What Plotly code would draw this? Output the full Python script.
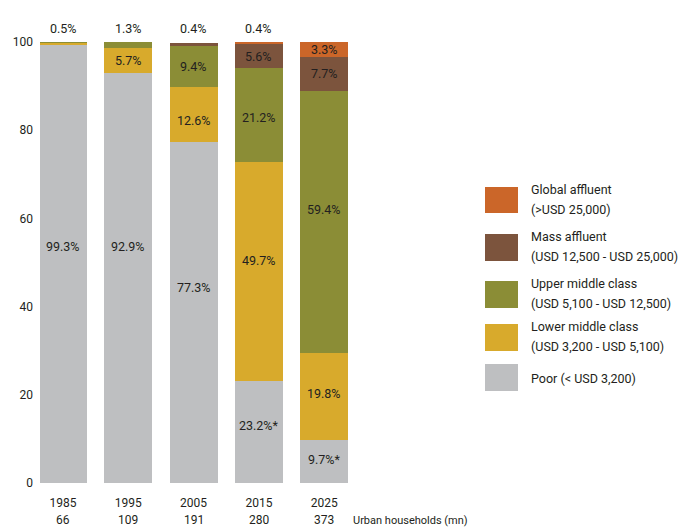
import plotly.graph_objects as go

# Urban household income distribution by year (share of households, %)
years = ["1985", "1995", "2005", "2015", "2025"]
households_mn = ["66", "109", "191", "280", "373"]

poor = [99.3, 92.9, 77.3, 23.2, 9.7]
lower_middle = [0.5, 5.7, 12.6, 49.7, 19.8]
upper_middle = [0.2, 1.3, 9.4, 21.2, 59.4]
mass_affluent = [0.0, 0.0, 0.4, 5.6, 7.7]
global_affluent = [0.0, 0.0, 0.0, 0.4, 3.3]

poor_note = ["", "", "", "*", "*"]

series_names = ["Poor", "Lower middle class", "Upper middle class",
                "Mass affluent", "Global affluent"]
series_ranges = ["(< USD 3,200)", "(USD 3,200 - USD 5,100)",
                 "(USD 5,100 - USD 12,500)", "(USD 12,500 - USD 25,000)",
                 "(>USD 25,000)"]
series_values = [poor, lower_middle, upper_middle, mass_affluent, global_affluent]
series_colors = ["#BEBFC1", "#D8AA2C", "#8B8D36", "#7C543D", "#CB6629"]

# segment whose share is printed above each bar (thin top segments)
top_label_series = [1, 2, 3, 4, None]

# vertical nudges (px) of the in-bar labels, per series and year
label_nudge = [
    [18, 32, 25, 6, 2],
    [0, 0, -6, 11, 3],
    [0, 0, -1, -3, 12],
    [0, 0, 0, -1, 0],
    [0, 0, 0, 0, 0],
]

FONT = "Roboto, Liberation Sans, sans-serif"
INK = "#231F20"

W, H = 694, 528
L, R, T, B = 40, 0, 42, 45
plot_w, plot_h = W - L - R, H - T - B
step = 65.3            # pixels between bar centres
first_centre = 63      # pixel x of first bar centre


def px_x(px):
    return (px - L) / plot_w


def px_y(py):
    return (H - B - py) / plot_h


x_pos = list(range(len(years)))
fig = go.Figure()

for name, vals, color in zip(series_names, series_values, series_colors):
    fig.add_trace(go.Bar(
        x=x_pos, y=vals, name=name,
        marker=dict(color=color, line=dict(width=0)),
        width=48 / step,
        hoverinfo="skip", showlegend=False,
    ))

annotations = []
# in-bar share labels, centred on each segment
base = [0.0] * len(years)
for k, vals in enumerate(series_values):
    for i, v in enumerate(vals):
        if v >= 3:
            note = poor_note[i] if k == 0 else ""
            annotations.append(dict(
                x=i, y=base[i] + v / 2, xref="x", yref="y",
                yshift=label_nudge[k][i],
                text=f"{v:.1f}%{note}", showarrow=False,
                font=dict(family=FONT, size=12.5, color=INK)))
        base[i] += v

# labels above bars for thin top segments
for i, k in enumerate(top_label_series):
    if k is None:
        continue
    annotations.append(dict(
        x=i, y=100, xref="x", yref="y", yanchor="bottom", yshift=4,
        text=f"{series_values[k][i]:.1f}%", showarrow=False,
        font=dict(family=FONT, size=12.5, color=INK)))

# household counts under the year labels
for i, n in enumerate(households_mn):
    annotations.append(dict(
        x=i, y=px_y(520), xref="x", yref="paper", yanchor="middle",
        text=n, showarrow=False, font=dict(family=FONT, size=12, color=INK)))
annotations.append(dict(
    x=px_x(351), y=px_y(520), xref="paper", yref="paper",
    xanchor="left", yanchor="middle", text="Urban households (mn)",
    showarrow=False, font=dict(family=FONT, size=11, color=INK)))

# legend: colour squares with two-line descriptions
legend_boxes = [(364, 391), (324, 351), (281, 308), (234, 261), (187, 213)]
legend_lines = [(378,), (326, 346), (283, 303), (236, 256), (189, 209)]
shapes = []
for k in range(len(series_names)):
    y0, y1 = legend_boxes[k]
    shapes.append(dict(type="rect", xref="paper", yref="paper",
                       x0=px_x(485), x1=px_x(518), y0=px_y(y1), y1=px_y(y0),
                       fillcolor=series_colors[k], line=dict(width=0)))
    if k == 0:
        parts = [f"{series_names[k]} {series_ranges[k]}"]
    else:
        parts = [series_names[k], series_ranges[k]]
    for text, ly in zip(parts, legend_lines[k]):
        annotations.append(dict(
            x=px_x(529), y=px_y(ly), xref="paper", yref="paper",
            xanchor="left", yanchor="middle", text=text, showarrow=False,
            font=dict(family=FONT, size=12.5, color=INK)))

x0 = -(first_centre - L) / step
fig.update_layout(
    width=W, height=H,
    margin=dict(l=L, r=R, t=T, b=B, pad=0),
    barmode="stack", bargap=0,
    plot_bgcolor="white", paper_bgcolor="white",
    font=dict(family=FONT, size=12, color=INK),
    xaxis=dict(range=[x0, x0 + plot_w / step], tickvals=x_pos, ticktext=years,
               showgrid=False, zeroline=False, showline=False, ticks="",
               ticklabelstandoff=11, fixedrange=True),
    yaxis=dict(range=[0, 100], tickvals=[0, 20, 40, 60, 80, 100],
               showgrid=False, zeroline=False, showline=False, ticks="",
               ticklabelstandoff=6, fixedrange=True),
    shapes=shapes, annotations=annotations,
)

fig.write_html("out.html")
